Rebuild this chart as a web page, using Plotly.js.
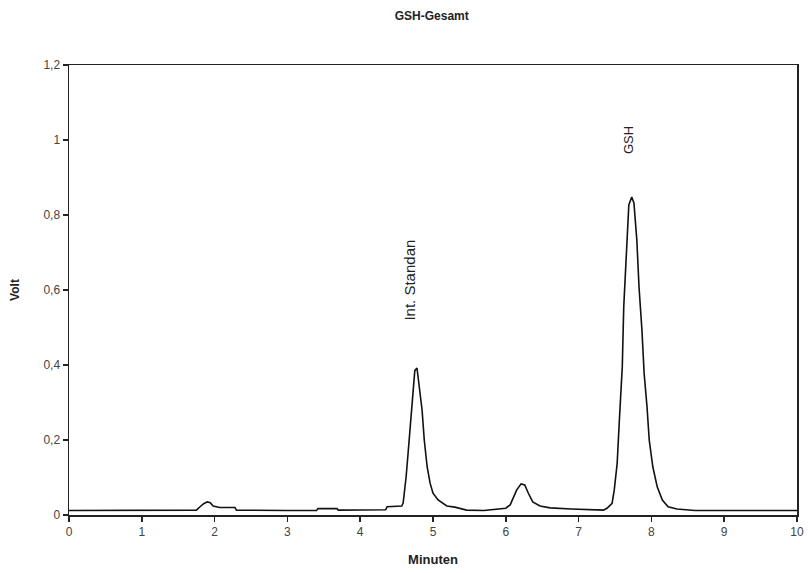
<!DOCTYPE html>
<html>
<head>
<meta charset="utf-8">
<script src="https://cdn.plot.ly/plotly-3.0.1.min.js"></script>
<style>html,body{margin:0;padding:0;background:#fff;}#chart{width:810px;height:573px;}</style>
</head>
<body>
<div id="chart"></div>
<script>
// Retention time (min) and detector signal (Volt)
const timeMin = [
  0.00, 1.00, 1.75, 1.80, 1.85, 1.90, 1.94, 1.98, 2.05, 2.07, 2.28, 2.30,
  3.00, 3.40, 3.42, 3.68, 3.70, 4.35, 4.37, 4.57, 4.59, 4.63, 4.66, 4.70,
  4.73, 4.75, 4.78, 4.81, 4.85, 4.88, 4.92, 4.96, 5.00, 5.07, 5.19, 5.30,
  5.46, 5.70, 5.88, 6.00, 6.06, 6.10, 6.15, 6.21, 6.26, 6.31, 6.37, 6.47,
  6.61, 6.90, 7.00, 7.34, 7.39, 7.46, 7.49, 7.53, 7.56, 7.60, 7.62, 7.66,
  7.69, 7.73, 7.76, 7.80, 7.83, 7.87, 7.90, 7.94, 7.97, 8.02, 8.08, 8.15,
  8.23, 8.35, 8.50, 8.60, 9.00, 10.00
];
const volt = [
  0.012, 0.012, 0.013, 0.022, 0.030, 0.035, 0.033, 0.024, 0.022, 0.020, 0.020, 0.013,
  0.012, 0.012, 0.017, 0.017, 0.013, 0.014, 0.022, 0.024, 0.032, 0.100, 0.170, 0.260,
  0.330, 0.385, 0.392, 0.350, 0.280, 0.200, 0.128, 0.085, 0.058, 0.040, 0.024, 0.021,
  0.013, 0.012, 0.015, 0.018, 0.027, 0.045, 0.067, 0.083, 0.080, 0.058, 0.035, 0.024,
  0.019, 0.016, 0.015, 0.013, 0.018, 0.031, 0.067, 0.138, 0.253, 0.395, 0.555, 0.733,
  0.827, 0.848, 0.832, 0.733, 0.608, 0.493, 0.378, 0.288, 0.200, 0.128, 0.075, 0.040,
  0.022, 0.016, 0.013, 0.012, 0.012, 0.012
];
const xTicks = [0, 1, 2, 3, 4, 5, 6, 7, 8, 9, 10];
const yTicks = [0, 0.2, 0.4, 0.6, 0.8, 1, 1.2];
const peakNames = ["Int. Standan", "GSH"];
const peakLabelX = [4.68, 7.68];
const peakLabelY = [0.627, 1.0];
const peakLabelSize = [15, 13];

const FONT = 'Liberation Sans, Arial, sans-serif';

const trace = {
  x: timeMin, y: volt, type: 'scatter', mode: 'lines',
  line: {color: '#111', width: 1.6, shape: 'linear'},
  hoverinfo: 'x+y'
};

const axisCommon = {
  showgrid: false, zeroline: false, showline: true, mirror: true,
  linecolor: '#222', linewidth: 1.5, ticks: 'outside', ticklen: 5,
  tickcolor: '#222', tickwidth: 1.5,
  tickfont: {family: FONT, size: 12, color: '#444'}
};

const layout = {
  width: 810, height: 573,
  margin: {l: 69, r: 13, t: 65, b: 58},
  paper_bgcolor: '#fff', plot_bgcolor: '#fff',
  separators: ',.',
  showlegend: false,
  title: {
    text: '<b>GSH-Gesamt</b>', x: 0.533, xanchor: 'center', y: 0.973, yanchor: 'middle',
    font: {family: FONT, size: 12, color: '#222'}
  },
  xaxis: Object.assign({}, axisCommon, {
    range: [0, 10], tickvals: xTicks,
    title: {text: '<b>Minuten</b>', standoff: 17,
      font: {family: FONT, size: 13, color: '#222'}}
  }),
  yaxis: Object.assign({}, axisCommon, {
    range: [0, 1.2], tickvals: yTicks,
    title: {text: '<b>Volt</b>', standoff: 21,
      font: {family: FONT, size: 12, color: '#222'}}
  }),
  annotations: peakNames.map((t, i) => ({
    x: peakLabelX[i], y: peakLabelY[i], xref: 'x', yref: 'y',
    text: t, showarrow: false, textangle: -90,
    font: {family: FONT, size: peakLabelSize[i], color: '#222'}
  }))
};

Plotly.newPlot('chart', [trace], layout, {displayModeBar: false, staticPlot: true});
</script>
</body>
</html>
